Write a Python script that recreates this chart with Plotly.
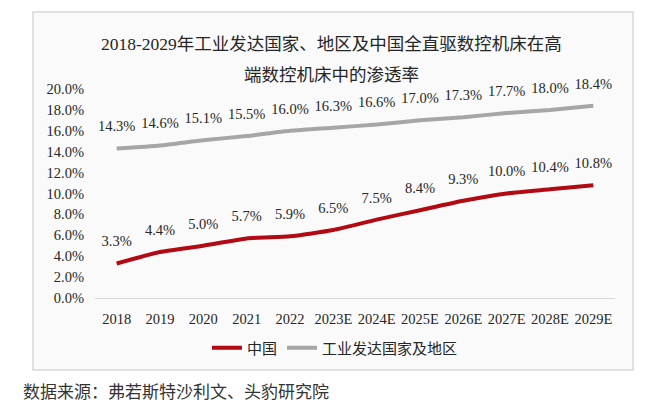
import plotly.graph_objects as go

# categories and series values (percent)
years = ["2018", "2019", "2020", "2021", "2022", "2023E", "2024E",
         "2025E", "2026E", "2027E", "2028E", "2029E"]
china = [3.3, 4.4, 5.0, 5.7, 5.9, 6.5, 7.5, 8.4, 9.3, 10.0, 10.4, 10.8]
developed = [14.3, 14.6, 15.1, 15.5, 16.0, 16.3, 16.6, 17.0, 17.3, 17.7, 18.0, 18.4]
y_ticks = [0, 2, 4, 6, 8, 10, 12, 14, 16, 18, 20]

serif = "Liberation Serif, Times New Roman, Noto Sans CJK SC, serif"
cjk = "Noto Sans CJK SC, sans-serif"
dark = "#262626"

# page adds an 8px body margin, so the figure is drawn 8px smaller
W, H = 647, 396
L, T, PW, PH = 87, 81, 520, 209


def px(x):
    # reference pixel -> paper x
    return (x - 8 - L) / PW


def py(y):
    # reference pixel -> paper y
    return (T + PH - (y - 8)) / PH


fig = go.Figure()

fig.add_trace(go.Scatter(
    x=years, y=china, name="中国", mode="lines",
    line=dict(color="#B20A12", width=4, shape="spline", smoothing=0.5),
))
fig.add_trace(go.Scatter(
    x=years, y=developed, name="工业发达国家及地区", mode="lines",
    line=dict(color="#A6A6A6", width=4, shape="spline", smoothing=0.5),
))

# data labels above each point (invisible markers push the text up)
for series in (china, developed):
    fig.add_trace(go.Scatter(
        x=years, y=series, mode="markers+text", showlegend=False, hoverinfo="skip",
        marker=dict(size=20, color="rgba(0,0,0,0)"),
        text=[f"{v:.1f}%" for v in series], textposition="top center",
        textfont=dict(family=serif, size=14.5, color=dark),
        cliponaxis=False,
    ))

# title (two lines)
fig.add_annotation(xref="paper", yref="paper", x=px(331), y=py(44),
                   text="2018-2029年工业发达国家、地区及中国全直驱数控机床在高",
                   showarrow=False, xanchor="center", yanchor="middle",
                   font=dict(family=serif, size=17.5, color=dark))
fig.add_annotation(xref="paper", yref="paper", x=px(331), y=py(75),
                   text="端数控机床中的渗透率",
                   showarrow=False, xanchor="center", yanchor="middle",
                   font=dict(family=serif, size=17.5, color=dark))

# source note outside the box
fig.add_annotation(xref="paper", yref="paper", x=px(21), y=py(390),
                   text="数据来源：弗若斯特沙利文、头豹研究院",
                   showarrow=False, xanchor="left", yanchor="middle",
                   font=dict(family=cjk, size=17, color="#333333"))

# chart frame
fig.add_shape(type="rect", xref="paper", yref="paper", layer="below",
              x0=px(33), x1=px(633), y0=py(370), y1=py(12),
              line=dict(color="#D9D9D9", width=1.5), fillcolor="#FAFAFA")

fig.update_layout(
    width=W, height=H,
    margin=dict(l=L, r=W - L - PW, t=T, b=H - T - PH),
    paper_bgcolor="white",
    plot_bgcolor="rgba(0,0,0,0)",
    showlegend=True,
    legend=dict(orientation="h", x=px(335), xanchor="center",
                y=py(348), yanchor="middle",
                font=dict(family=cjk, size=15, color=dark),
                bgcolor="rgba(0,0,0,0)"),
    xaxis=dict(type="category", range=[-0.5, len(years) - 0.5],
               showgrid=False, showline=True,
               linecolor="#D9D9D9", linewidth=1,
               ticks="", ticklabelstandoff=8,
               tickfont=dict(family=serif, size=14.5, color=dark)),
    yaxis=dict(range=[0, 20], showgrid=False, zeroline=False, showline=False,
               tickvals=y_ticks, ticktext=[f"{t:.1f}%" for t in y_ticks],
               ticks="", ticklabelstandoff=10,
               tickfont=dict(family=serif, size=14.5, color=dark)),
)

fig.write_html("out.html")
